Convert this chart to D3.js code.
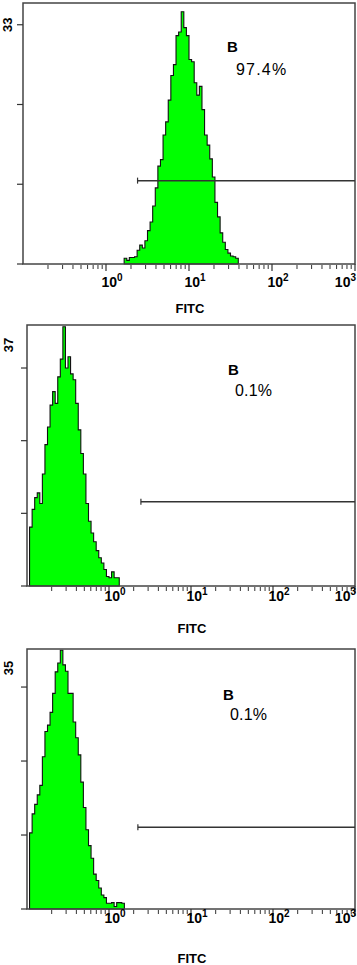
<!DOCTYPE html>
<html>
<head>
<meta charset="utf-8">
<script src="https://cdn.jsdelivr.net/npm/d3@7/dist/d3.min.js"></script>
<style>
body { margin: 0; background: #fff; }
svg { display: block; font-family: "Liberation Sans", Arial, sans-serif; }
</style>
</head>
<body>
<div id="chart"></div>
<script>
// 128 channels spread over 4 decades (0.1 .. 1000)
var nChannels = 128;

// histogram counts, one value per channel, starting at firstChannel
var counts1 = [0.8, 0.5, 0.9, 0.9, 1.0, 1.9, 2.6, 2.2, 3.2, 4.6, 5.8, 8.0, 10.5, 13.5, 14.4, 17.8,
    19.6, 22.6, 26, 27.5, 31.5, 32, 34.8, 32.6, 31.5, 28.2, 27.9, 25.0, 23.3, 24.5, 21.3, 17.8,
    16.4, 14.5, 12.0, 8.5, 6.5, 4.3, 3.0, 2.0, 1.5, 1.1, 1.0, 0.8];
var counts2 = [10, 13, 15, 15.8, 14, 19, 24, 27, 30.7, 33, 31, 35.5, 38.5, 44, 37, 38.9, 36, 35,
    31, 26.5, 22.5, 19, 14, 11, 9, 7.5, 6, 4.8, 3.9, 2.8, 1.6, 1.4, 2.4, 1.4, 1.4];
var counts3 = [12, 15, 16.5, 18, 19.5, 24, 28, 29, 31, 34, 37.4, 38.8, 40.8, 38.5, 37.5, 34, 34,
    29.5, 27, 24.3, 20, 16, 12.5, 10, 8, 5.5, 4.5, 3.3, 2.2, 1.8, 0.9, 0.9, 1.0, 0.4, 1.0, 1.0, 0.9];

var allCounts = [counts1, counts2, counts3];
var firstChannel = [39, 1, 1];

// y axis: labelled max tick and top of the axis
var yLabel = [33, 37, 35];
var yTop = [36, 44.3, 41];

// marker gate: start value on FITC and height in counts
var gateStart = [2.4, 2.45, 2.25];
var gateLevel = [11.5, 14.3, 12.9];

var gateName = ["B", "B", "B"];
var gatePercent = ["97.4%", "0.1%", "0.1%"];

var decades = [-1, 0, 1, 2, 3];
var xTitle = "FITC";

// layout of each panel in the page
var layout = [
    {left: 23, right: 355, top: 3, bottom: 264, yLabDy: 0, yLabX: 7, tickDy: 23, titleDy: 49,
        nameX: 227, nameY: 52, pctX: 236, pctY: 75, pctSpacing: 1.2},
    {left: 27, right: 355, top: 325, bottom: 586, yLabDy: -23, yLabX: 8, tickDy: 15, titleDy: 47,
        nameX: 228, nameY: 375, pctX: 235, pctY: 396, pctSpacing: 0.2},
    {left: 27, right: 355, top: 649, bottom: 909, yLabDy: -19, yLabX: 8, tickDy: 14, titleDy: 54,
        nameX: 223, nameY: 700, pctX: 230, pctY: 720, pctSpacing: 0.2}
];

var svg = d3.select("#chart").append("svg")
    .attr("width", 357)
    .attr("height", 965);

function chanValue(c) {
    return Math.pow(10, -1 + c * 4 / nChannels);
}

layout.forEach(function(L, p) {
    var x = d3.scaleLog()
        .domain([0.1, 1000])
        .range([L.left, L.right]);
    var y = d3.scaleLinear()
        .domain([0, yTop[p]])
        .range([L.bottom, L.top]);

    var g = svg.append("g");

    // histogram as steps, one bin per channel
    var counts = allCounts[p];
    var bins = counts.map(function(v, i) {
        return {c: firstChannel[p] + i, n: v};
    });
    bins.push({c: firstChannel[p] + counts.length, n: counts[counts.length - 1]});

    var area = d3.area()
        .x(function(d) { return x(chanValue(d.c)); })
        .y0(y(0))
        .y1(function(d) { return y(d.n); })
        .curve(d3.curveStepAfter);

    g.append("path")
        .datum(bins)
        .attr("d", area)
        .attr("fill", "#00ff00")
        .attr("stroke", "#111")
        .attr("stroke-width", 1.1);

    // frame
    g.append("rect")
        .attr("x", L.left)
        .attr("y", L.top)
        .attr("width", L.right - L.left)
        .attr("height", L.bottom - L.top)
        .attr("fill", "none")
        .attr("stroke", "#444")
        .attr("stroke-width", 1.5);

    // y ticks: 0, 1/3, 2/3 and the labelled max
    var yTicks = d3.range(4).map(function(k) { return yLabel[p] * k / 3; });
    g.selectAll(".ytick")
        .data(yTicks)
        .enter().append("line")
        .attr("x1", L.left - 6)
        .attr("x2", L.left)
        .attr("y1", function(d) { return y(d); })
        .attr("y2", function(d) { return y(d); })
        .attr("stroke", "#333")
        .attr("stroke-width", 1.2);

    g.append("text")
        .attr("transform", "translate(" + (L.yLabX + 5) + "," + (y(yLabel[p]) + L.yLabDy) + ") rotate(-90)")
        .attr("text-anchor", "middle")
        .style("font-size", "13px")
        .style("font-weight", "bold")
        .text(yLabel[p]);

    // x ticks: decades and 2..9 minors
    var minor = [];
    decades.slice(0, -1).forEach(function(e) {
        for (var m = 2; m <= 9; m++) minor.push(m * Math.pow(10, e));
    });
    g.selectAll(".minor")
        .data(minor)
        .enter().append("line")
        .attr("x1", function(d) { return x(d); })
        .attr("x2", function(d) { return x(d); })
        .attr("y1", L.bottom + 1)
        .attr("y2", L.bottom + 5)
        .attr("stroke", "#333")
        .attr("stroke-width", 1);
    g.selectAll(".major")
        .data(decades.slice(1))
        .enter().append("line")
        .attr("x1", function(d) { return x(Math.pow(10, d)); })
        .attr("x2", function(d) { return x(Math.pow(10, d)); })
        .attr("y1", L.bottom)
        .attr("y2", L.bottom + 7)
        .attr("stroke", "#333")
        .attr("stroke-width", 1.2);

    var lab = g.selectAll(".xlab")
        .data(decades.slice(1))
        .enter().append("text")
        .attr("x", function(d, i, a) {
            return i === a.length - 1 ? 356 : x(Math.pow(10, d)) + 6;
        })
        .attr("y", L.bottom + L.tickDy)
        .attr("text-anchor", function(d, i, a) { return i === a.length - 1 ? "end" : "middle"; })
        .style("font-size", "14px")
        .style("font-weight", "bold");
    lab.append("tspan").text("10");
    lab.append("tspan")
        .attr("dy", -6)
        .style("font-size", "10px")
        .text(function(d) { return d; });

    g.append("text")
        .attr("x", x(10) + 1)
        .attr("y", L.bottom + L.titleDy)
        .attr("text-anchor", "middle")
        .style("font-size", "13px")
        .style("font-weight", "bold")
        .text(xTitle);

    // gate marker
    var gy = y(gateLevel[p]);
    g.append("line")
        .attr("x1", x(gateStart[p]))
        .attr("x2", x(1000))
        .attr("y1", gy)
        .attr("y2", gy)
        .attr("stroke", "#333")
        .attr("stroke-width", 1.5);
    g.append("line")
        .attr("x1", x(gateStart[p]))
        .attr("x2", x(gateStart[p]))
        .attr("y1", gy - 3)
        .attr("y2", gy + 3)
        .attr("stroke", "#333")
        .attr("stroke-width", 1.2);

    g.append("text")
        .attr("x", L.nameX)
        .attr("y", L.nameY)
        .style("font-size", "15px")
        .style("font-weight", "bold")
        .text(gateName[p]);
    g.append("text")
        .attr("x", L.pctX)
        .attr("y", L.pctY)
        .style("font-size", "16px")
        .style("letter-spacing", L.pctSpacing + "px")
        .text(gatePercent[p]);
});
</script>
</body>
</html>
